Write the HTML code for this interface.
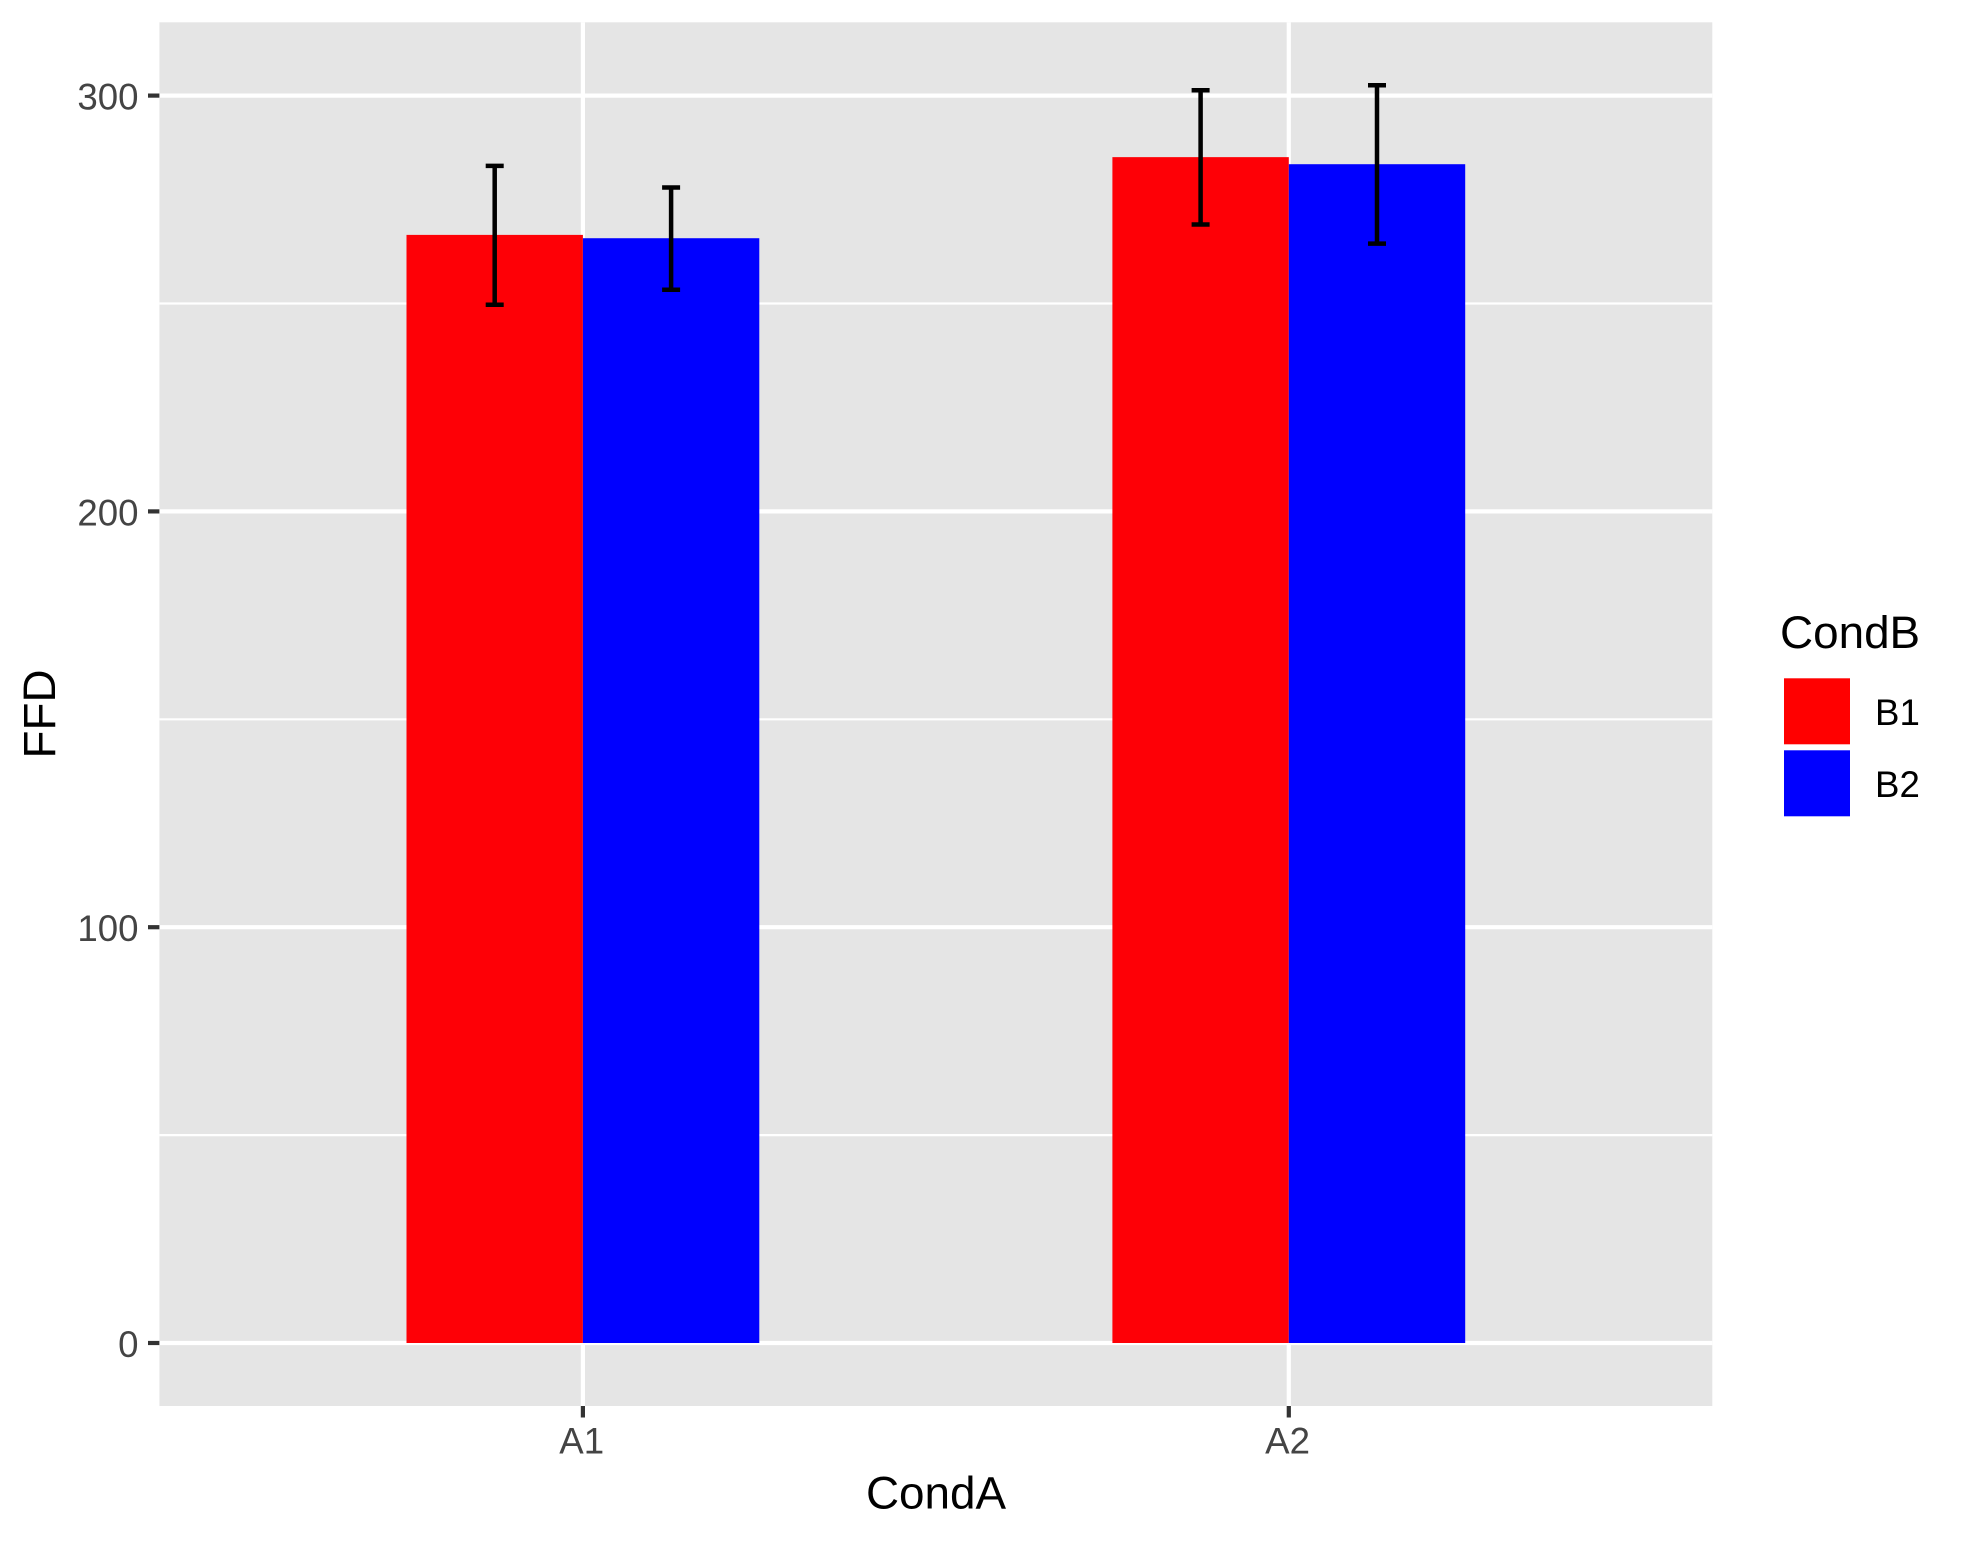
<!DOCTYPE html>
<html lang="en">
<head>
<meta charset="utf-8">
<title>FFD by CondA and CondB</title>
<style>
  html, body { margin: 0; padding: 0; background: #ffffff; }
  svg { display: block; font-family: "Liberation Sans", Arial, sans-serif; }
</style>
</head>
<body>
<svg id="chart" xmlns="http://www.w3.org/2000/svg" width="1966" height="1541" viewBox="0 0 1966 1541">
  <rect x="0" y="0" width="1966" height="1541" fill="#ffffff"/>
  <rect x="159.4" y="22.3" width="1552.9" height="1383.7" fill="#e5e5e5"/>
  <g id="grid"></g>
  <g id="bars"></g>
  <g id="errors"></g>
  <g id="y-axis"></g>
  <g id="x-axis"></g>
  <text x="936" y="1508.7" text-anchor="middle" font-size="45.83" fill="#000000">CondA</text>
  <text transform="translate(55 714) rotate(-90)" text-anchor="middle" font-size="45.83" fill="#000000">FFD</text>
  <g id="legend">
    <text x="1780" y="648" font-size="45.83" fill="#000000">CondB</text>
    <rect x="1784" y="678.3" width="66" height="66" fill="#ff0000"/>
    <text x="1875" y="725" font-size="36.67" fill="#000000">B1</text>
    <rect x="1784" y="750.3" width="66" height="66" fill="#0000ff"/>
    <text x="1875" y="797" font-size="36.67" fill="#000000">B2</text>
  </g>
</svg>
<script>
const categories = ["A1", "A2"];
const groups = ["B1", "B2"];
const groupColors = ["#fe0006", "#0000ff"];
const valuesB1 = [266.5, 285.2];
const valuesB2 = [265.7, 283.5];
const lowerB1 = [249.7, 269.0];
const lowerB2 = [253.3, 264.4];
const upperB1 = [283.1, 301.3];
const upperB2 = [277.9, 302.5];
const majorTicks = [0, 100, 200, 300];
const minorTicks = [50, 150, 250];

const NS = "http://www.w3.org/2000/svg";
const panelLeft = 159.4, panelRight = 1712.3, panelTop = 22.3, panelBottom = 1406;

function yScale(v) { return 1343 - v * 4.158; }
function xScale(i) { return 582.9 + i * 705.9; }
function groupX(i, g) { return xScale(i) - 176.4 + g * 176.4; }

function make(tag, attrs, parent) {
  const el = document.createElementNS(NS, tag);
  for (const k in attrs) el.setAttribute(k, attrs[k]);
  parent.appendChild(el);
  return el;
}

const gridG = document.getElementById("grid");
const barsG = document.getElementById("bars");
const errG = document.getElementById("errors");
const yG = document.getElementById("y-axis");
const xG = document.getElementById("x-axis");

minorTicks.forEach(function (t) {
  const y = yScale(t);
  const line = make("line", { x1: panelLeft, x2: panelRight, y1: y, y2: y, stroke: "#ffffff", "stroke-width": 2.2 }, gridG);
  
  
});

majorTicks.forEach(function (t) {
  const y = yScale(t);
  const line = make("line", { x1: panelLeft, x2: panelRight, y1: y, y2: y, stroke: "#ffffff", "stroke-width": 4.2 }, gridG);
  
  

  const tick = make("line", { x1: 148, x2: panelLeft, y1: y, y2: y, stroke: "#333333", "stroke-width": 4.2 }, yG);
  
  

  const label = make("text", { x: 138.5, y: y + 14, "text-anchor": "end", "font-size": 36.67, fill: "#444444" }, yG);
  label.textContent = String(t);
  
  
});

categories.forEach(function (c, i) {
  const x = xScale(i);
  const line = make("line", { x1: x, x2: x, y1: panelTop, y2: panelBottom, stroke: "#ffffff", "stroke-width": 4.2 }, gridG);
  
  

  const tick = make("line", { x1: x, x2: x, y1: panelBottom, y2: 1417.5, stroke: "#333333", "stroke-width": 4.2 }, xG);
  
  

  const label = make("text", { x: x - 1.2, y: 1453.7, "text-anchor": "middle", "font-size": 36.67, fill: "#444444" }, xG);
  label.textContent = c;
  
  
});

const seriesValues = [valuesB1, valuesB2];
const seriesLower = [lowerB1, lowerB2];
const seriesUpper = [upperB1, upperB2];
const barWidth = 176.4;
const capWidth = 18;

groups.forEach(function (g, gi) {
  categories.forEach(function (c, i) {
    const left = groupX(i, gi);
    const top = yScale(seriesValues[gi][i]);
    const bar = make("rect", { x: left, y: top, width: barWidth, height: yScale(0) - top, fill: groupColors[gi] }, barsG);
    
    
  });
});

groups.forEach(function (g, gi) {
  categories.forEach(function (c, i) {
    const cx = groupX(i, gi) + barWidth / 2;
    const yl = yScale(seriesLower[gi][i]);
    const yu = yScale(seriesUpper[gi][i]);
    const wrap = make("g", { stroke: "#000000", "stroke-width": 4.5, fill: "none" }, errG);
    
    
    make("line", { x1: cx, x2: cx, y1: yu, y2: yl }, wrap);
    make("line", { x1: cx - capWidth / 2, x2: cx + capWidth / 2, y1: yu, y2: yu }, wrap);
    make("line", { x1: cx - capWidth / 2, x2: cx + capWidth / 2, y1: yl, y2: yl }, wrap);
  });
});
</script>
</body>
</html>
